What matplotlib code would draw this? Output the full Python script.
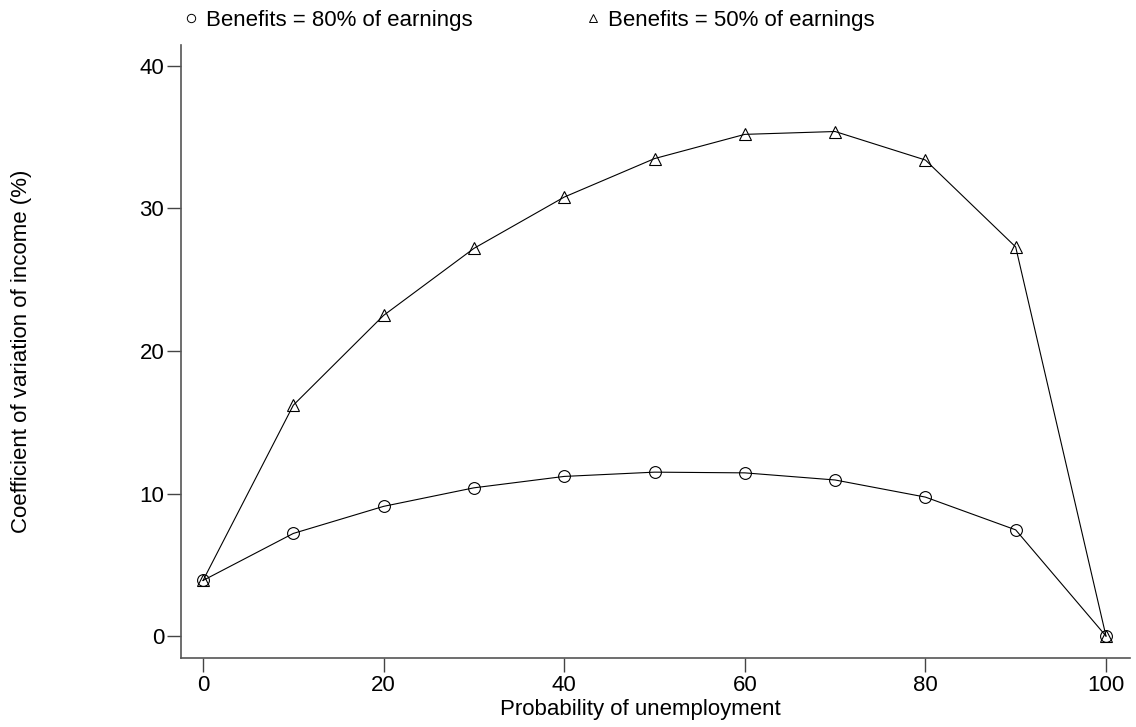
import matplotlib
matplotlib.use("Agg")
import matplotlib.pyplot as plt
from matplotlib.lines import Line2D

# probability of unemployment (%)
prob = [0, 10, 20, 30, 40, 50, 60, 70, 80, 90, 100]
# coefficient of variation of income (%)
cv_80 = [3.9, 7.2, 9.1, 10.4, 11.2, 11.5, 11.45, 10.95, 9.75, 7.45, 0.0]
cv_50 = [3.9, 16.2, 22.5, 27.2, 30.8, 33.5, 35.2, 35.4, 33.4, 27.3, 0.0]
yticks = [0, 10, 20, 30, 40]
xticks = [0, 20, 40, 60, 80, 100]
labels = ["Benefits = 80% of earnings", "Benefits = 50% of earnings"]

plt.rcParams['font.family'] = ['Liberation Sans', 'DejaVu Sans']

fig = plt.figure(figsize=(11.36, 7.27), dpi=100)
ax = fig.add_axes([181 / 1136, 69 / 727, 949 / 1136, 613 / 727])

ax.plot(prob, cv_80, color='black', lw=0.8, marker='o', ms=8.5,
        mfc='none', mec='black', mew=0.8)
ax.plot(prob, cv_50, color='black', lw=0.8, marker='^', ms=8.5,
        mfc='none', mec='black', mew=0.8)

ax.set_xlim(-2.44, 102.66)
ax.set_ylim(-1.54, 41.47)
ax.set_xticks(xticks)
ax.set_yticks(yticks)
ax.tick_params(direction='out', length=10, width=1, color='#444444',
               labelsize=16, pad=2)
for s in ['top', 'right']:
    ax.spines[s].set_visible(False)
for s in ['left', 'bottom']:
    ax.spines[s].set_color('#555555')
    ax.spines[s].set_linewidth(1.2)

ax.set_xlabel("Probability of unemployment", fontsize=16)
ax.set_ylabel("Coefficient of variation of income (%)", fontsize=16)
ax.xaxis.set_label_coords(0.4837, -0.067)
ax.yaxis.set_label_coords(-0.157, 0.5)

handles = [Line2D([], [], ls='none', marker='o', ms=6, mfc='none', mec='black', mew=0.7),
           Line2D([], [], ls='none', marker='^', ms=6, mfc='none', mec='black', mew=0.7)]
fig.legend(handles, labels, loc='center left', bbox_to_anchor=(0.16, 0.972), ncol=2,
           frameon=False, fontsize=16, handletextpad=0.3, columnspacing=5.0,
           handlelength=0.8, borderpad=0, borderaxespad=0)

fig.savefig("out.png", dpi=100)
